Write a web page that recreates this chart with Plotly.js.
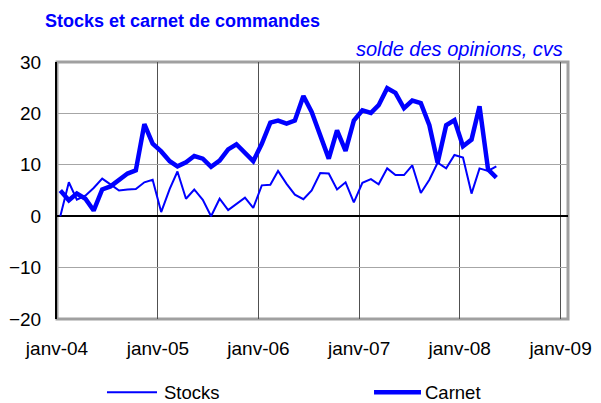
<!DOCTYPE html>
<html><head><meta charset="utf-8">
<script src="https://cdn.plot.ly/plotly-3.0.1.min.js"></script>
<style>body{margin:0;padding:0;background:#fff}#chart{width:601px;height:403px}</style>
</head><body><div id="chart"></div>
<script>
// Monthly observations, Jan 2004 – May 2008
const startYear = 2004;
const nMonths = 53;
const stocks = [0, 6.6, 3.2, 4.0, 5.5, 7.3, 6.2, 5.0, 5.2, 5.3, 6.6, 7.1,
  0.8, 5.3, 8.7, 3.4, 5.2, 3.2, 0.0, 3.4, 1.2, 2.4, 3.6, 1.6,
  6.0, 6.1, 8.8, 6.3, 4.2, 3.3, 5.0, 8.4, 8.3, 5.2, 6.6, 2.7,
  6.5, 7.2, 6.2, 9.3, 8.0, 8.0, 9.9, 4.5, 7.1, 10.4, 9.3, 11.9,
  11.4, 4.4, 9.3, 8.8, 9.7];
const carnet = [5.0, 3.1, 4.4, 3.4, 1.1, 5.2, 5.8, 7.1, 8.3, 8.9, 17.9, 14.1,
  12.6, 10.7, 9.7, 10.5, 11.7, 11.2, 9.6, 10.8, 13.0, 14.0, 12.2, 10.7,
  14.1, 18.2, 18.6, 18.0, 18.6, 23.4, 20.3, 15.8, 11.2, 16.7, 12.7, 18.6,
  20.6, 20.1, 21.6, 24.9, 24.0, 21.0, 22.5, 22.0, 17.7, 10.4, 17.7, 18.7,
  13.6, 14.9, 21.4, 9.1, 7.5];
const tickYears = [2004, 2005, 2006, 2007, 2008, 2009];
const tickLabels = ['janv-04', 'janv-05', 'janv-06', 'janv-07', 'janv-08', 'janv-09'];
const seriesNames = ['Stocks', 'Carnet'];
const titleText = 'Stocks et carnet de commandes';
const subtitleText = 'solde des opinions, cvs';

function pad(n){return (n<10?'0':'')+n;}
const dates = [];
for (let i = 0; i < nMonths; i++) {
  const y = startYear + Math.floor(i / 12);
  const m = (i % 12) + 1;
  dates.push(y + '-' + pad(m) + '-13');
}
const tickVals = tickYears.map(y => y + '-01-01');

const FONT = 'Liberation Sans, Arial, sans-serif';
const BLUE = '#0000FF';
const widths = [2, 4.5];
const traces = [
  {x: dates, y: stocks, name: seriesNames[0], type: 'scatter', mode: 'lines',
   line: {color: BLUE, width: widths[0]}},
  {x: dates, y: carnet, name: seriesNames[1], type: 'scatter', mode: 'lines',
   line: {color: BLUE, width: widths[1]}}
];

// manual legend (paper coordinates)
const legY = -0.285;
const legItems = [
  {x0: 0.0978, x1: 0.1957, tx: 0.2068},
  {x0: 0.6204, x1: 0.7123, tx: 0.7182}
];
const shapes = [
  {type: 'rect', xref: 'paper', yref: 'paper', x0: 0, x1: 1, y0: 0, y1: 1,
   line: {color: '#a0a0a0', width: 3}, layer: 'below'}
];
const annotations = [
  {text: '<b>' + titleText + '</b>', xref: 'paper', yref: 'paper',
   x: -0.027, y: 1.16, xanchor: 'left', yanchor: 'middle', showarrow: false,
   font: {family: FONT, size: 18, color: BLUE}},
  {text: '<i>' + subtitleText + '</i>', xref: 'paper', yref: 'paper',
   x: 0.994, y: 1.05, xanchor: 'right', yanchor: 'middle', showarrow: false,
   font: {family: FONT, size: 20, color: BLUE}}
];
legItems.forEach((it, i) => {
  shapes.push({type: 'line', xref: 'paper', yref: 'paper', x0: it.x0, x1: it.x1,
    y0: legY, y1: legY, line: {color: BLUE, width: widths[i]}});
  annotations.push({text: seriesNames[i], xref: 'paper', yref: 'paper',
    x: it.tx, y: legY, xanchor: 'left', yanchor: 'middle', showarrow: false,
    borderpad: 0, font: {family: FONT, size: 18.5, color: '#000'}});
});

const layout = {
  width: 601, height: 403,
  margin: {l: 57, r: 33, t: 62, b: 84},
  paper_bgcolor: '#fff', plot_bgcolor: '#fff',
  font: {family: FONT, size: 19, color: '#000'},
  showlegend: false,
  xaxis: {type: 'date', range: ['2004-01-01', '2009-01-28'],
          tickvals: tickVals, ticktext: tickLabels, tickangle: 0,
          showgrid: true, gridcolor: '#505050', gridwidth: 1,
          zeroline: false, showline: false, ticks: '', ticklabelstandoff: 16,
          tickfont: {family: FONT, size: 19, color: '#000'}},
  yaxis: {range: [-20, 30], dtick: 10, tick0: 0,
          showgrid: true, gridcolor: '#a6a6a6', gridwidth: 1,
          zeroline: true, zerolinecolor: '#000', zerolinewidth: 2,
          showline: true, linecolor: '#000', linewidth: 2, ticks: '',
          ticklabelstandoff: 10,
          tickfont: {family: FONT, size: 19, color: '#000'}},
  shapes: shapes,
  annotations: annotations
};
Plotly.newPlot('chart', traces, layout, {staticPlot: true, displayModeBar: false});
</script></body></html>
